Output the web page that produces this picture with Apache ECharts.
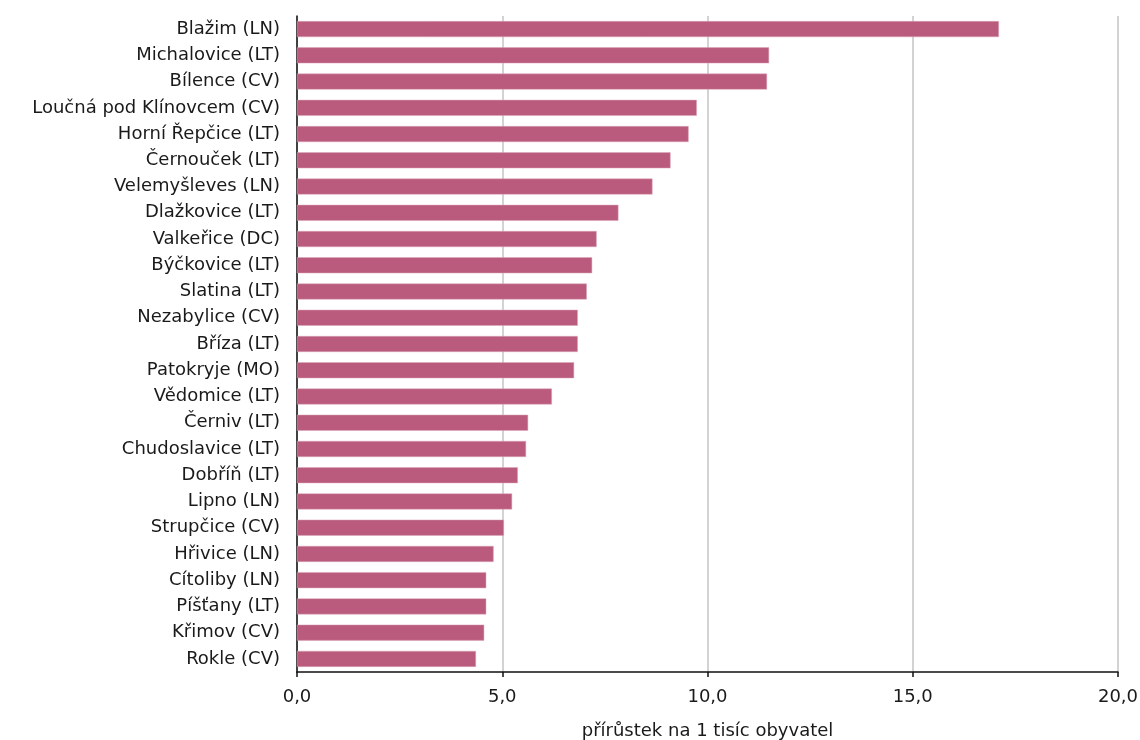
<!DOCTYPE html>
<html>
<head>
<meta charset="utf-8">
<script src="https://cdn.jsdelivr.net/npm/echarts@6/dist/echarts.min.js"></script>
<style>
html,body{margin:0;padding:0;background:#fff;}
#chart{width:1140px;height:740px;}
</style>
</head>
<body>
<div id="chart"></div>
<script>
var categories = [
  "Blažim (LN)", "Michalovice (LT)", "Bílence (CV)", "Loučná pod Klínovcem (CV)",
  "Horní Řepčice (LT)", "Černouček (LT)", "Velemyšleves (LN)", "Dlažkovice (LT)",
  "Valkeřice (DC)", "Býčkovice (LT)", "Slatina (LT)", "Nezabylice (CV)",
  "Bříza (LT)", "Patokryje (MO)", "Vědomice (LT)", "Černiv (LT)",
  "Chudoslavice (LT)", "Dobříň (LT)", "Lipno (LN)", "Strupčice (CV)",
  "Hřivice (LN)", "Cítoliby (LN)", "Píšťany (LT)", "Křimov (CV)", "Rokle (CV)"
];
var values = [
  17.1, 11.5, 11.45, 9.74, 9.54, 9.1, 8.66, 7.83,
  7.3, 7.19, 7.06, 6.84, 6.84, 6.75, 6.21, 5.63,
  5.58, 5.38, 5.24, 5.04, 4.79, 4.61, 4.61, 4.56, 4.36
];
var xTicks = [0, 5, 10, 15, 20];
var axisName = "přírůstek na 1 tisíc obyvatel";

var chart = echarts.init(document.getElementById('chart'), null, {renderer: 'canvas'});
chart.setOption({
  animation: false,
  backgroundColor: '#ffffff',
  textStyle: {fontFamily: '"DejaVu Sans", Verdana, sans-serif'},
  grid: {left: 297, right: 22, top: 16, bottom: 68, containLabel: false, outerBoundsMode: 'none'},
  xAxis: {
    type: 'value',
    min: xTicks[0],
    max: xTicks[xTicks.length - 1],
    interval: 5,
    name: axisName,
    nameLocation: 'middle',
    nameGap: 50,
    nameTextStyle: {fontSize: 18, color: '#1a1a1a', fontFamily: '"DejaVu Sans", Verdana, sans-serif'},
    axisLine: {show: true, lineStyle: {color: '#111', width: 1.5}},
    axisTick: {show: true, length: 5, lineStyle: {color: '#111', width: 1.5}},
    axisLabel: {
      fontSize: 18, color: '#1a1a1a', margin: 16,
      fontFamily: '"DejaVu Sans", Verdana, sans-serif',
      formatter: function (v) { return v.toFixed(1).replace('.', ','); }
    },
    splitLine: {show: true, lineStyle: {color: '#c4c4c4', width: 1.5}}
  },
  yAxis: {
    type: 'category',
    data: categories,
    inverse: true,
    axisLine: {show: true, lineStyle: {color: '#111', width: 1.5}},
    axisTick: {show: false},
    axisLabel: {fontSize: 18, color: '#1a1a1a', margin: 17, fontFamily: '"DejaVu Sans", Verdana, sans-serif'},
    splitLine: {show: false}
  },
  series: [{
    type: 'bar',
    data: values,
    barWidth: 16,
    itemStyle: {color: '#BA5B7D', borderColor: '#dca6bb', borderWidth: 0.5},
    silent: true
  }]
});
</script>
</body>
</html>
